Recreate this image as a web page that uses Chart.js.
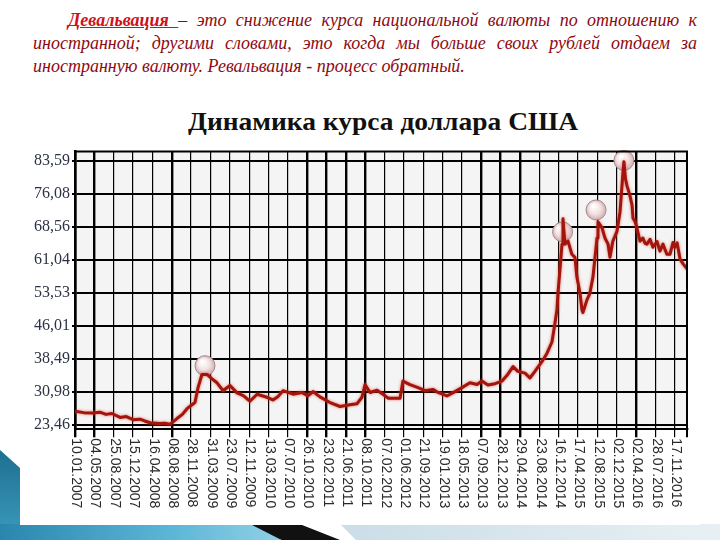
<!DOCTYPE html>
<html><head><meta charset="utf-8">
<script src="https://cdn.jsdelivr.net/npm/chart.js@4"></script>
<style>
html,body{margin:0;padding:0;width:720px;height:540px;overflow:hidden;background:#fff;}
body{position:relative;font-family:'Liberation Serif';}
#para{position:absolute;left:33px;top:9px;width:664px;color:#8e0a12;font-family:'Liberation Serif';font-style:italic;font-size:18px;line-height:23px;}
#l1{text-indent:35px;text-align:justify;text-align-last:justify;}
#l2{text-align:justify;text-align-last:justify;}
.dv{color:#d0101a;font-weight:bold;text-decoration:underline;}
#title{position:absolute;left:188px;top:107px;font-family:'Liberation Serif';font-weight:bold;font-size:26px;color:#111;white-space:nowrap;transform-origin:0 0;}
#box{position:absolute;left:20px;top:140px;width:680px;height:385px;background:#fff;}
.deco{position:absolute;}
</style></head>
<body>
<div id="para">
<div id="l1"><span class="dv">Девальвация </span> – это снижение курса национальной валюты по отношению к</div>
<div id="l2">иностранной; другими словами, это когда мы больше своих рублей отдаем за</div>
<div id="l3">иностранную валюту. Ревальвация - процесс обратный.</div>
</div>
<div class="deco" style="left:0;top:450px;width:22px;height:90px;background:linear-gradient(180deg,#1d6f8f,#3c9cc0);clip-path:polygon(0 0,100% 22%,100% 100%,0 100%);"></div>
<div class="deco" style="left:0;top:524px;width:280px;height:16px;background:linear-gradient(90deg,#2a86ad,#5bb5d6 60%,#8fd0e6);"></div>
<div class="deco" style="left:250px;top:524px;width:90px;height:16px;background:#111;clip-path:polygon(0 0,55% 0,100% 100%,35% 100%);"></div>
<div class="deco" style="left:320px;top:524px;width:400px;height:16px;background:linear-gradient(90deg,#c9dce6,#e8f0f4);clip-path:polygon(5% 0,100% 0,100% 100%,9% 100%);"></div>
<div id="box"><canvas id="c" width="680" height="385"></canvas></div>
<div id="title">Динамика курса доллара США</div>
<script>
const dateLabels = ['10.01.2007','04.05.2007','25.08.2007','15.12.2007','16.04.2008','08.08.2008','28.11.2008','31.03.2009','23.07.2009','12.11.2009','13.03.2010','07.07.2010','26.10.2010','23.02.2011','21.06.2011','08.10.2011','07.02.2012','01.06.2012','21.09.2012','19.01.2013','18.05.2013','07.09.2013','28.12.2013','29.04.2014','23.08.2014','16.12.2014','17.04.2015','12.08.2015','02.12.2015','02.04.2016','28.07.2016','17.11.2016'];
const yTickVals = [23.46,30.98,38.49,46.01,53.53,61.04,68.56,76.08,83.59];
const yTickText = ['23,46','30,98','38,49','46,01','53,53','61,04','68,56','76,08','83,59'];
// position along the date axis, in label intervals
const timeIdx = [0,0.45,0.93,1.29,1.60,1.91,2.33,2.65,3.00,3.36,3.60,3.88,4.39,4.65,4.91,5.27,5.55,5.79,6.20,6.36,6.56,6.82,7.08,7.34,7.65,8.01,8.37,8.70,9.04,9.41,9.92,10.23,10.50,10.75,11.27,11.73,12.04,12.30,12.66,13.18,13.70,14.21,14.57,14.83,14.99,15.25,15.61,15.92,16.18,16.64,16.80,16.95,17.31,17.73,18.09,18.50,18.76,19.22,19.64,20.00,20.41,20.78,21.03,21.34,21.71,22.07,22.33,22.64,22.89,23.26,23.51,23.77,24.13,24.39,24.65,24.81,24.91,24.96,25.06,25.17,25.22,25.32,25.48,25.68,25.84,25.94,26.10,26.20,26.25,26.46,26.61,26.77,26.98,27.03,27.24,27.39,27.55,27.65,27.80,28.01,28.17,28.32,28.37,28.45,28.53,28.68,28.79,28.84,28.95,29.04,29.20,29.35,29.46,29.56,29.72,29.87,30.08,30.23,30.39,30.59,30.75,30.91,31.00,31.12,31.27,31.43,31.63];
const rate = [26.6,26.3,26.2,26.4,25.9,26.1,25.2,25.4,24.7,24.8,24.4,24.0,23.8,23.9,23.6,24.95,25.9,27.2,28.6,32.0,35.0,35.0,34.0,33.1,31.3,32.5,30.8,30.2,28.9,30.5,29.8,29.2,30.0,31.3,30.5,30.9,30.1,31.1,29.9,28.6,27.7,28.1,28.3,29.8,32.7,30.9,31.4,30.5,29.6,29.6,29.6,33.5,32.7,32.0,31.3,31.6,30.9,30.1,31.1,32.0,33.1,32.7,33.5,32.6,32.9,33.5,34.8,36.8,35.7,35.3,34.2,35.7,37.9,39.8,42.4,46.8,49.8,53.5,58.7,64.7,70.5,64.7,65.4,62.4,61.7,57.2,53.5,49.8,49.1,52.0,53.5,57.2,66.1,69.8,68.4,66.1,64.7,61.7,65.4,67.6,72.1,81.0,83.5,79.6,78.0,75.8,73.6,70.6,69.8,68.4,65.4,66.1,64.9,64.7,65.8,64.0,65.3,63.1,64.7,62.4,62.4,65.1,64.0,65.0,61.3,60.2,59.1];
const peakIdx = [6.72,25.20,26.93,28.37];
const peakRate = [37.0,67.5,72.5,83.8];
const thickGrid = [0,1,5,12,13,14,15,21,22,23,29];

const frame = {
  id:'frame',
  beforeDraw(chart){
    const {ctx,chartArea:a}=chart;
    ctx.save();ctx.fillStyle='#f4f4f4';ctx.fillRect(a.left,a.top,a.right-a.left,a.bottom-a.top);ctx.restore();
  },
  afterDatasetsDraw(chart){
    const {ctx,chartArea:a}=chart;
    ctx.save();ctx.strokeStyle='#000';ctx.lineWidth=2;
    ctx.beginPath();ctx.moveTo(a.left,a.top);ctx.lineTo(a.right,a.top);ctx.lineTo(a.right,a.bottom+8);ctx.stroke();
    ctx.restore();
  },
  afterDraw(chart){
    const {ctx,chartArea:a}=chart;const xs=chart.scales.x;
    ctx.save();ctx.fillStyle='#2a2a2a';ctx.font="14px 'Liberation Sans'";
    ctx.textAlign='left';ctx.textBaseline='middle';
    dateLabels.forEach((l,i)=>{
      const px=xs.getPixelForValue(i);
      ctx.save();ctx.translate(px+1,a.bottom+9);ctx.rotate(Math.PI/2);ctx.fillText(l,0,0);ctx.restore();
    });
    ctx.restore();
  },
  beforeDatasetDraw(chart,args){
    if(args.index===0){const c=chart.ctx;c.save();c.shadowColor='rgba(215,70,50,0.75)';c.shadowBlur=3;}
  },
  afterDatasetDraw(chart,args){ if(args.index===0){chart.ctx.restore();} }
};

new Chart(document.getElementById('c'),{
  type:'line',
  data:{datasets:[
    {data:timeIdx.map((x,i)=>({x,y:rate[i]})),borderColor:'#a3140c',borderWidth:3,pointRadius:0,tension:0,borderJoinStyle:'round'},
    {type:'scatter',data:peakIdx.map((x,i)=>({x,y:peakRate[i]})),pointRadius:10,borderWidth:1,borderColor:'#a48c8e',clip:false,
     backgroundColor(ctx){
       const ch=ctx.chart; if(!ch.chartArea) return '#f1e0e0';
       const p=ctx.raw; if(!p) return '#f1e0e0';
       const px=ch.scales.x.getPixelForValue(p.x), py=ch.scales.y.getPixelForValue(p.y);
       const g=ch.ctx.createRadialGradient(px-3,py-4,1,px,py,10);
       g.addColorStop(0,'#ffffff');g.addColorStop(0.55,'#f2e2e2');g.addColorStop(1,'#d4aeb2');
       return g;
     }}
  ]},
  options:{
    responsive:false,animation:false,
    layout:{padding:{left:0,right:13,top:5,bottom:0}},
    plugins:{legend:{display:false},tooltip:{enabled:false}},
    scales:{
      x:{type:'linear',min:0,max:31.63,
        afterBuildTicks(s){s.ticks=dateLabels.map((_,i)=>({value:i}));},
        ticks:{display:false},
        grid:{color:'#000',lineWidth:c=>thickGrid.includes(c.index)?2.4:1.2,tickLength:8,drawTicks:true},
        border:{display:true,color:'#000',width:2},
        afterFit(s){s.height=95.7;}
      },
      y:{min:22.5,max:85.8,
        afterBuildTicks(s){s.ticks=yTickVals.map(v=>({value:v}));},
        ticks:{callback:(v,i)=>yTickText[i],font:{family:"'Liberation Serif'",size:16},color:'#2b3345',padding:2},
        grid:{color:'#000',lineWidth:2,tickLength:3},
        border:{display:true,color:'#000',width:2.5},
        afterFit(s){s.width=55;}
      }
    }
  },
  plugins:[frame]
});
const t=document.getElementById('title');const w=t.getBoundingClientRect().width;t.style.transform='scaleX('+(390/w)+')';
</script>
</body></html>
